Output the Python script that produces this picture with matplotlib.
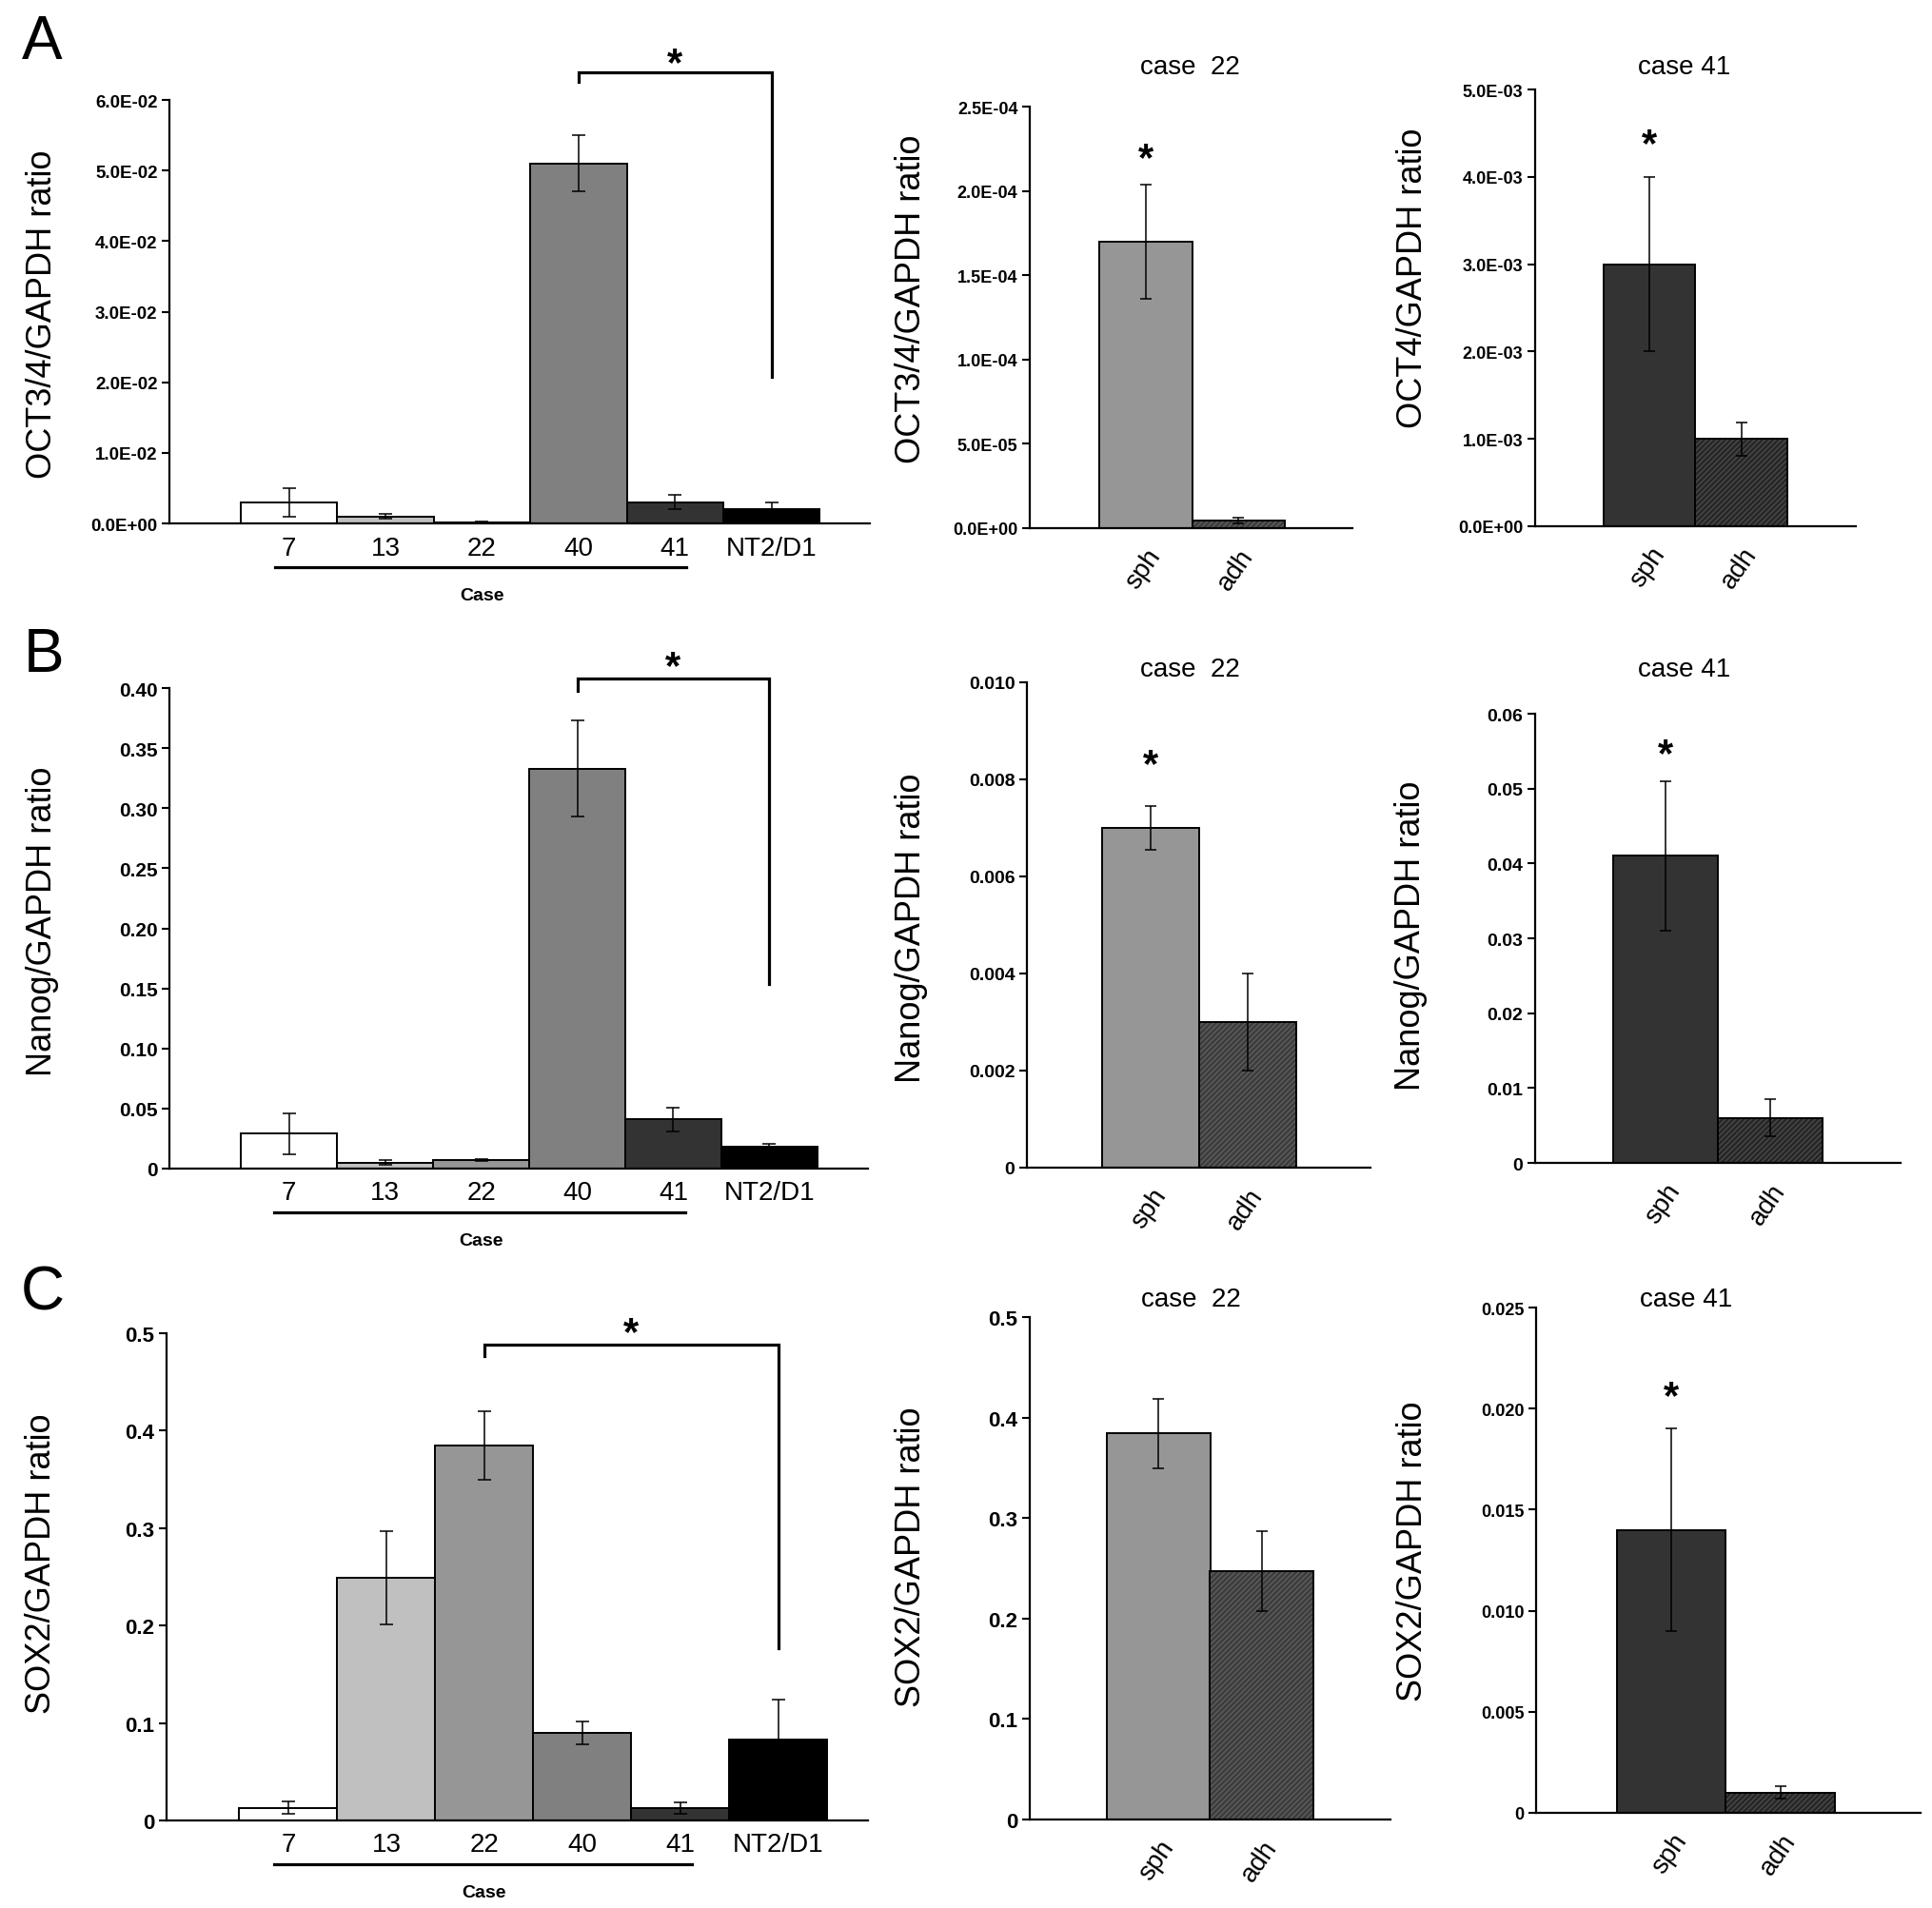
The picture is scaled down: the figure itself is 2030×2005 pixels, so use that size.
import matplotlib
matplotlib.use('Agg')
import matplotlib.pyplot as plt
from matplotlib.transforms import blended_transform_factory, ScaledTranslation

plt.rcParams['font.family'] = ['Liberation Sans', 'DejaVu Sans']
plt.rcParams['hatch.linewidth'] = 1.0

# ---------------- data ----------------
cases = ['7', '13', '22', '40', '41', 'NT2/D1']
case_colors = ['#ffffff', '#c0c0c0', '#969696', '#808080', '#333333', '#000000']

oct_vals = [0.003, 0.001, 0.0002, 0.051, 0.003, 0.002]
oct_err = [0.002, 0.0003, 0.0001, 0.004, 0.001, 0.001]
nanog_vals = [0.029, 0.005, 0.007, 0.333, 0.041, 0.018]
nanog_err = [0.017, 0.002, 0.001, 0.040, 0.010, 0.0025]
sox2_vals = [0.013, 0.249, 0.385, 0.090, 0.013, 0.083]
sox2_err = [0.0065, 0.048, 0.035, 0.012, 0.006, 0.041]

pair_labels = ['sph', 'adh']
oct22_vals = [1.70e-4, 4.5e-6]
oct22_err = [0.34e-4, 1.5e-6]
oct41_vals = [3.0e-3, 1.0e-3]
oct41_err = [1.0e-3, 0.19e-3]
nanog22_vals = [0.0070, 0.0030]
nanog22_err = [0.00045, 0.0010]
nanog41_vals = [0.041, 0.006]
nanog41_err = [0.010, 0.0025]
sox22_vals = [0.384, 0.247]
sox22_err = [0.035, 0.040]
sox41_vals = [0.014, 0.001]
sox41_err = [0.005, 0.0003]

oct_ticks = [0, 0.01, 0.02, 0.03, 0.04, 0.05, 0.06]
oct_ticklabels = ['0.0E+00', '1.0E-02', '2.0E-02', '3.0E-02', '4.0E-02', '5.0E-02', '6.0E-02']
oct22_ticks = [0, 5e-5, 1e-4, 1.5e-4, 2e-4, 2.5e-4]
oct22_ticklabels = ['0.0E+00', '5.0E-05', '1.0E-04', '1.5E-04', '2.0E-04', '2.5E-04']
oct41_ticks = [0, 1e-3, 2e-3, 3e-3, 4e-3, 5e-3]
oct41_ticklabels = ['0.0E+00', '1.0E-03', '2.0E-03', '3.0E-03', '4.0E-03', '5.0E-03']
nanog_ticks = [0, 0.05, 0.10, 0.15, 0.20, 0.25, 0.30, 0.35, 0.40]
nanog_ticklabels = ['0', '0.05', '0.10', '0.15', '0.20', '0.25', '0.30', '0.35', '0.40']
nanog22_ticks = [0, 0.002, 0.004, 0.006, 0.008, 0.010]
nanog22_ticklabels = ['0', '0.002', '0.004', '0.006', '0.008', '0.010']
nanog41_ticks = [0, 0.01, 0.02, 0.03, 0.04, 0.05, 0.06]
nanog41_ticklabels = ['0', '0.01', '0.02', '0.03', '0.04', '0.05', '0.06']
sox_ticks = [0, 0.1, 0.2, 0.3, 0.4, 0.5]
sox_ticklabels = ['0', '0.1', '0.2', '0.3', '0.4', '0.5']
sox41_ticks = [0, 0.005, 0.010, 0.015, 0.020, 0.025]
sox41_ticklabels = ['0', '0.005', '0.010', '0.015', '0.020', '0.025']

# significance brackets: (from bar, to bar, top, left-tick end, right end), star height
oct_bracket = (3, 5, 0.0639, 0.0625, 0.0208)
oct_bracket_star = 0.0665
nanog_bracket = (3, 5, 0.408, 0.398, 0.154)
nanog_bracket_star = 0.425
sox_bracket = (2, 5, 0.488, 0.4766, 0.177)
sox_bracket_star = 0.51
oct22_star = 2.246e-4
oct41_star = 4.47e-3
nanog22_star = 0.00849
nanog41_star = 0.0558
sox41_star = 0.02105

# ---------------- figure ----------------
W, H = 2031, 2006
DPI = 100
fig = plt.figure(figsize=(W / DPI, H / DPI), dpi=DPI)


def px_axes(l, r, t, b):
    return fig.add_axes([l / W, 1 - b / H, (r - l) / W, (b - t) / H])


def ftext(x, y, s, **kw):
    return fig.text(x / W, 1 - y / H, s, **kw)


def style(ax, ticks, ticklabels, tfs):
    for s in ['top', 'right']:
        ax.spines[s].set_visible(False)
    for s in ['left', 'bottom']:
        ax.spines[s].set_linewidth(1.6)
    ax.set_ylim(0, ticks[-1])
    ax.set_yticks(ticks)
    ax.set_yticklabels(ticklabels, fontsize=tfs, fontweight='bold')
    ax.tick_params(axis='y', direction='out', length=6, width=1.5, pad=3)


def star(ax, x, y):
    ax.annotate('*', xy=(x, y), xytext=(0, -15), textcoords='offset points',
                ha='center', va='baseline', fontsize=30, fontweight='bold',
                annotation_clip=False)


def main_panel(box, xlim, vals, errs, ticks, ticklabels, tfs, bracket, bstar):
    ax = px_axes(*box)
    x = list(range(len(vals)))
    ax.bar(x, vals, width=1.0, color=case_colors, edgecolor='black',
           linewidth=1.4, zorder=2)
    ax.errorbar(x, vals, yerr=errs, fmt='none', ecolor='black',
                elinewidth=1.1, capsize=5, capthick=1.1, zorder=3)
    style(ax, ticks, ticklabels, tfs)
    ax.set_xlim(*xlim)
    ax.set_xticks(x)
    ax.set_xticklabels(cases, fontsize=20)
    ax.tick_params(axis='x', length=0, pad=9)
    i0, i1, ytop, ytick, yend = bracket
    ax.plot([i0, i0, i1, i1], [ytick, ytop, ytop, yend], color='black',
            lw=2.3, clip_on=False, solid_joinstyle='miter', zorder=4)
    star(ax, (i0 + i1) / 2, bstar)
    tr = blended_transform_factory(ax.transData, ax.transAxes)
    ax.plot([-0.15, 4.12], [0, 0], color='black', lw=2.3, clip_on=False,
            transform=tr + ScaledTranslation(0, -46 / DPI, fig.dpi_scale_trans))
    ax.text(2, 0, 'Case', ha='center', va='baseline', fontsize=14,
            fontweight='bold',
            transform=tr + ScaledTranslation(0, -80 / DPI, fig.dpi_scale_trans))
    return ax


def pair_panel(box, xlim, vals, errs, colors, hatchcolor, ticks, ticklabels,
               tfs, star_y=None):
    ax = px_axes(*box)
    x = [0, 1]
    ax.bar(x[:1], vals[:1], width=1.0, color=colors[:1], edgecolor='black',
           linewidth=1.4, zorder=2)
    ax.bar(x[1:], vals[1:], width=1.0, color=colors[1:], edgecolor=hatchcolor,
           hatch='//////', linewidth=0, zorder=2)
    ax.bar(x[1:], vals[1:], width=1.0, fill=False, edgecolor='black',
           linewidth=1.4, zorder=2.1)
    ax.errorbar(x, vals, yerr=errs, fmt='none', ecolor='black',
                elinewidth=1.1, capsize=4, capthick=1.1, zorder=3)
    style(ax, ticks, ticklabels, tfs)
    ax.set_xlim(*xlim)
    ax.set_xticks(x)
    ax.set_xticklabels(pair_labels, fontsize=20, rotation=55, ha='right',
                       rotation_mode='anchor')
    ax.tick_params(axis='x', length=0, pad=12)
    if star_y is not None:
        star(ax, 0, star_y)
    return ax


# Row A
main_panel((178, 914, 106, 551), (-1.24, 6.02), oct_vals, oct_err,
           oct_ticks, oct_ticklabels, 13.5, oct_bracket, oct_bracket_star)
pair_panel((1082, 1421, 113, 556), (-1.249, 2.228), oct22_vals, oct22_err,
           ['#969696', '#3c3c3c'], '#5e5e5e', oct22_ticks, oct22_ticklabels,
           13, oct22_star)
pair_panel((1613, 1950, 95, 554), (-1.246, 2.246), oct41_vals, oct41_err,
           ['#333333', '#262626'], '#4a4a4a', oct41_ticks, oct41_ticklabels,
           13, oct41_star)

# Row B
main_panel((178, 912, 724, 1229), (-1.243, 6.025), nanog_vals, nanog_err,
           nanog_ticks, nanog_ticklabels, 15, nanog_bracket, nanog_bracket_star)
pair_panel((1079, 1440, 718, 1228), (-1.275, 2.265), nanog22_vals, nanog22_err,
           ['#969696', '#3c3c3c'], '#5e5e5e', nanog22_ticks, nanog22_ticklabels,
           14, nanog22_star)
pair_panel((1613, 1997, 751, 1223), (-1.245, 2.245), nanog41_vals, nanog41_err,
           ['#333333', '#262626'], '#4a4a4a', nanog41_ticks, nanog41_ticklabels,
           14, nanog41_star)

# Row C
main_panel((175, 912, 1402, 1914), (-1.243, 5.917), sox2_vals, sox2_err,
           sox_ticks, sox_ticklabels, 16, sox_bracket, sox_bracket_star)
pair_panel((1082, 1461, 1385, 1913), (-1.247, 2.247), sox22_vals, sox22_err,
           ['#969696', '#3c3c3c'], '#5e5e5e', sox_ticks, sox_ticklabels,
           16, None)
pair_panel((1614, 2018, 1375, 1906), (-1.242, 2.286), sox41_vals, sox41_err,
           ['#333333', '#262626'], '#4a4a4a', sox41_ticks, sox41_ticklabels,
           13, sox41_star)

# y-axis labels
ylabels = [
    ('OCT3/4/GAPDH ratio', 45, 330), ('OCT3/4/GAPDH ratio', 958, 314),
    ('OCT4/GAPDH ratio', 1485, 292),
    ('Nanog/GAPDH ratio', 45, 968), ('Nanog/GAPDH ratio', 958, 975),
    ('Nanog/GAPDH ratio', 1483, 983),
    ('SOX2/GAPDH ratio', 44, 1643), ('SOX2/GAPDH ratio', 958, 1636),
    ('SOX2/GAPDH ratio', 1485, 1630),
]
for s, x, y in ylabels:
    ftext(x, y, s, rotation=90, ha='center', va='center', fontsize=26)

# panel titles
titles = [('case  22', 1250, 78), ('case 41', 1770, 78),
          ('case  22', 1250, 711), ('case 41', 1770, 711),
          ('case  22', 1251, 1373), ('case 41', 1772, 1373)]
for s, x, y in titles:
    ftext(x, y, s, ha='center', va='baseline', fontsize=20)

# panel letters
for s, x, y in [('A', 44, 62), ('B', 46, 706), ('C', 45, 1377)]:
    ftext(x, y, s, ha='center', va='baseline', fontsize=46)

fig.savefig('out.png', dpi=DPI, facecolor='white')
